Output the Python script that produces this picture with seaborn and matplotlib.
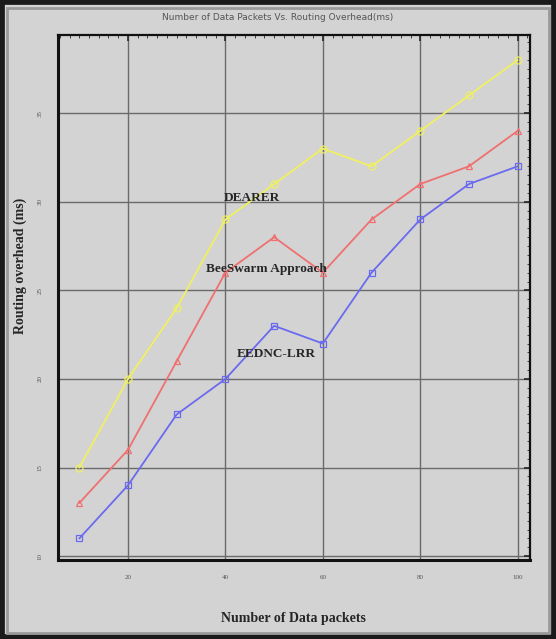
import matplotlib
matplotlib.use("Agg")
import matplotlib.pyplot as plt
import seaborn as sns
import pandas as pd
from matplotlib.patches import Rectangle
from matplotlib.ticker import MultipleLocator

packets = [10, 20, 30, 40, 50, 60, 70, 80, 90, 100]
dearer = [15, 20, 24, 29, 31, 33, 32, 34, 36, 38]
beeswarm = [13, 16, 21, 26, 28, 26, 29, 31, 32, 34]
eednc = [11, 14, 18, 20, 23, 22, 26, 29, 31, 32]
series_names = ["DEARER", "BeeSwarm Approach", "EEDNC-LRR"]

df = pd.DataFrame({
    "packets": packets * 3,
    "overhead": dearer + beeswarm + eednc,
    "series": [series_names[0]] * 10 + [series_names[1]] * 10 + [series_names[2]] * 10,
})

sns.set_theme(style="white")
plt.rcParams['font.family'] = ['Liberation Serif', 'DejaVu Serif']

fig = plt.figure(figsize=(5.56, 6.39), dpi=100)
fig.patch.set_facecolor("#d3d3d3")
# outer dark frame
fig.patches.append(Rectangle((0, 0), 1, 1, transform=fig.transFigure, fill=False,
                             edgecolor="#1a1a1a", linewidth=7, zorder=0))
fig.patches.append(Rectangle((0.012, 0.01), 0.976, 0.978, transform=fig.transFigure, fill=False,
                             edgecolor="#9a9a9a", linewidth=2, zorder=0))

ax = fig.add_axes([0.104, 0.124, 0.849, 0.821])
ax.set_facecolor("#d3d3d3")

palette = {"DEARER": "#f0f060", "BeeSwarm Approach": "#f07070", "EEDNC-LRR": "#6a6af0"}
markers = {"DEARER": "o", "BeeSwarm Approach": "^", "EEDNC-LRR": "s"}
sns.lineplot(data=df, x="packets", y="overhead", hue="series", style="series",
             palette=palette, markers=markers, dashes=False, ax=ax, legend=False,
             linewidth=1.3, markersize=5, markerfacecolor="none", markeredgewidth=0.9)
for line in ax.lines:
    line.set_markerfacecolor("none")
    line.set_markeredgecolor(line.get_color())

ax.set_xlim(5.6, 102.5)
ax.set_ylim(9.8, 39.4)
ax.set_xticks([20, 40, 60, 80, 100])
ax.set_yticks([10, 15, 20, 25, 30, 35])
ax.xaxis.set_minor_locator(MultipleLocator(2))
ax.yaxis.set_minor_locator(MultipleLocator(0.5))
ax.grid(True, which="major", color="#6a6a6a", linewidth=1.0)
ax.tick_params(axis="both", which="major", direction="in", length=4, width=1.2,
               labelsize=5, labelcolor="#555555", pad=11)
ax.tick_params(axis="both", which="minor", direction="in", length=2, width=0.6)
ax.tick_params(top=True, right=True, which="both")
for lbl in ax.get_yticklabels():
    lbl.set_rotation(90)
    lbl.set_va("center")
for side in ["left", "bottom"]:
    ax.spines[side].set_linewidth(2.2)
    ax.spines[side].set_color("#111111")
for side in ["top", "right"]:
    ax.spines[side].set_linewidth(1.6)
    ax.spines[side].set_color("#111111")

ax.set_xlabel("Number of Data packets", fontsize=10, fontweight="bold")
ax.set_ylabel("Routing overhead (ms)", fontsize=10, fontweight="bold")
ax.xaxis.set_label_coords(0.5, -0.099)
ax.yaxis.set_label_coords(-0.066, 0.56)

ax.text(45.5, 30.2, "DEARER", fontsize=9.5, fontweight="bold", ha="center", va="center")
ax.text(48.5, 26.2, "BeeSwarm Approach", fontsize=9.5, fontweight="bold", ha="center", va="center")
ax.text(50.5, 21.4, "EEDNC-LRR", fontsize=9.5, fontweight="bold", ha="center", va="center")

fig.text(0.5, 0.972, "Number of Data Packets Vs. Routing Overhead(ms)", ha="center", va="center",
         fontsize=6.5, color="#555555", family=["Liberation Sans Narrow", "DejaVu Sans"])

fig.savefig("out.png", dpi=100, facecolor=fig.get_facecolor())
